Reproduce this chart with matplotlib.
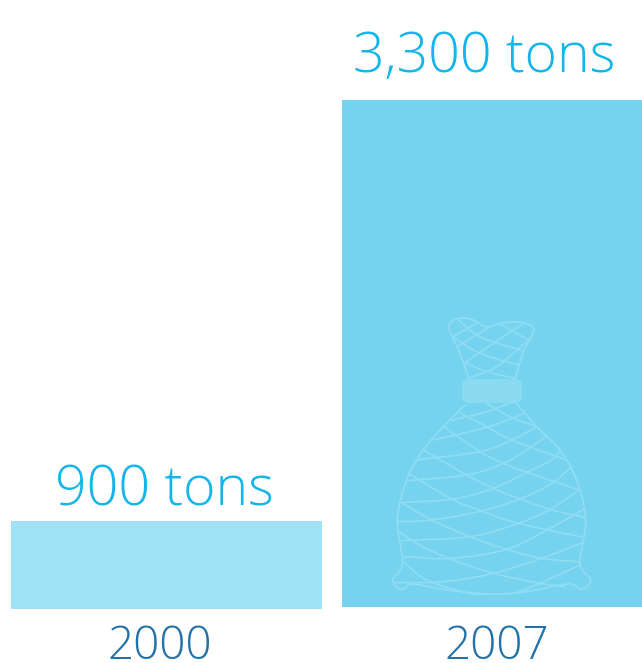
import numpy as np
import matplotlib
matplotlib.use("Agg")
import matplotlib.pyplot as plt
from matplotlib.patches import FancyBboxPatch

#Chart data
years = ["2000", "2007"]
tons_labels = ["900 tons", "3,300 tons"]
bar_heights = [87.5, 507]  #heights as drawn, the picture is not to scale
bar_bottoms = [608.5, 607]
bar_left = [11, 342]
bar_width = [311, 300]
bar_colors = ["#9FE2F6", "#75D3EF"]

#Net bag icon, points
outline_top = [(268, 210), (240, 130), (207, 55), (225, 28), (262, 25), (290, 35), (318, 50),
               (370, 38), (430, 38), (462, 60), (430, 125), (405, 210)]
outline_low = [(405, 275), (470, 350), (540, 420), (590, 510), (617, 630), (600, 760), (632, 810),
               (605, 838), (565, 822), (440, 845), (330, 852), (200, 840), (100, 822), (65, 838),
               (38, 810), (68, 760), (52, 630), (80, 510), (130, 420), (190, 350), (255, 285)]
strands = [
    #neck
    [(235, 30), (300, 80), (425, 122)],
    [(360, 42), (445, 90)],
    [(218, 80), (300, 130), (415, 165)],
    [(255, 158), (320, 185), (405, 205)],
    [(218, 80), (290, 40)],
    [(235, 108), (330, 50)],
    [(255, 158), (340, 100), (430, 40)],
    [(265, 205), (350, 170), (445, 90)],
    #body, falling to the right
    [(320, 280), (400, 325), (468, 348)],
    [(235, 305), (320, 350), (395, 390), (560, 450)],
    [(195, 352), (300, 425), (370, 460), (440, 487), (597, 540)],
    [(130, 420), (260, 495), (340, 535), (420, 567), (510, 598), (612, 622)],
    [(85, 490), (215, 567), (305, 603), (415, 640), (610, 682)],
    [(62, 577), (155, 630), (270, 680), (380, 718), (485, 745), (600, 755)],
    [(57, 665), (110, 700), (205, 745), (340, 790), (480, 820), (555, 830)],
    [(72, 757), (140, 810), (260, 848), (330, 852)],
    #body, rising to the right
    [(218, 330), (320, 305), (400, 275)],
    [(160, 390), (320, 352), (435, 310)],
    [(108, 450), (300, 425), (395, 390), (470, 350)],
    [(80, 512), (260, 495), (370, 460), (440, 420), (500, 378)],
    [(62, 578), (220, 567), (340, 535), (440, 487), (515, 450), (540, 420)],
    [(55, 635), (155, 630), (305, 603), (420, 567), (515, 520), (575, 470)],
    [(62, 692), (270, 680), (415, 640), (510, 598), (597, 540)],
    [(72, 740), (210, 745), (380, 718), (510, 655), (612, 597)],
    [(45, 818), (190, 815), (340, 790), (485, 745), (610, 697)],
    [(410, 848), (480, 820), (600, 765)],
]


def smooth(points):
    #Catmull-Rom through the points, converted from crop to figure pixels
    p = np.array(points, dtype=float) / 3 + (380, 310)
    p = np.vstack([2 * p[0] - p[1], p, 2 * p[-1] - p[-2]])
    t = np.linspace(0, 1, 20)[:, None]
    out = []
    for i in range(1, len(p) - 2):
        a, b, c, d = p[i - 1], p[i], p[i + 1], p[i + 2]
        out.append(0.5 * (2 * b + (c - a) * t + (2 * a - 5 * b + 4 * c - d) * t ** 2
                          + (3 * b - a - 3 * c + d) * t ** 3))
    return np.vstack(out)


fig = plt.figure(figsize=(6.42, 6.63), dpi=100)
ax = fig.add_axes([0, 0, 1, 1])
ax.set_xlim(0, 642)
ax.set_ylim(663, 0)
ax.axis("off")

ax.bar(bar_left, [-h for h in bar_heights], width=bar_width, bottom=bar_bottoms,
       align="edge", color=bar_colors, linewidth=0)

#Icon
net_color = "#8FDDF3"
for line in [outline_top, outline_low] + strands:
    xy = smooth(line)
    ax.plot(xy[:, 0], xy[:, 1], color=net_color, lw=1.25, solid_capstyle="round")
ax.add_patch(FancyBboxPatch((465, 382), 54, 18, boxstyle="round,pad=0,rounding_size=3",
                            mutation_aspect=1, fc="#8ADBF2", ec="#8ADBF2", lw=4))

#Text
for i, label in enumerate(tons_labels):
    cx = [164, 484][i]
    base = [505, 72][i]
    ax.text(cx, base, label, color="#13B5EA", fontsize=40, family="Open Sans",
            weight="light", ha="center", va="baseline")
for i, year in enumerate(years):
    ax.text([160, 497][i], 659, year, color="#2272AA", fontsize=33, family="Open Sans",
            weight="light", ha="center", va="baseline")

fig.savefig("out.png", dpi=100)
